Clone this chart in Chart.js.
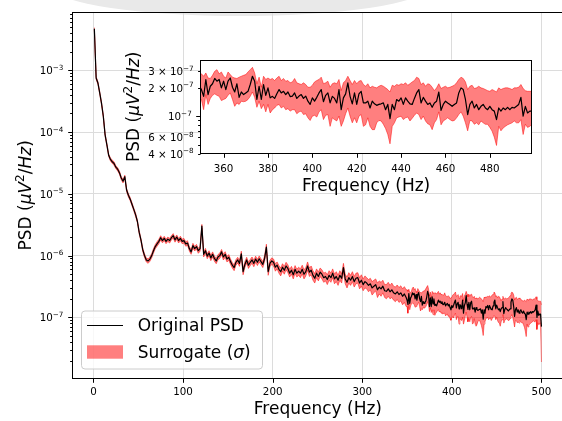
<!DOCTYPE html>
<html>
<head>
<meta charset="utf-8">
<script src="https://cdn.jsdelivr.net/npm/chart.js@4.4.0/dist/chart.umd.min.js"></script>
<style>
  html, body { margin: 0; padding: 0; background: #fff; overflow: hidden; }
  #wrap { position: relative; width: 562px; height: 421px; overflow: hidden; background: #fff; }
  #smudge { position: absolute; left: 55px; top: -40px; width: 370px; height: 56px; border-radius: 50%; background: #e9e9e9; }
  #main { position: absolute; left: 0; top: 0; }
  #inset { position: absolute; left: 100px; top: 50px; }
</style>
</head>
<body>
<div id="wrap">
  <div id="smudge"></div>
  <canvas id="main" width="600" height="421"></canvas>
  <canvas id="inset" width="450" height="150"></canvas>
</div>
<script>
// frequencies (Hz): every 2 Hz up to 349, then every 1 Hz up to 500
const freqs = [
  1,3,5,7,9,11,13,15,17,19,21,23,25,27,29,31,33,35,37,39,41,43,45,47,49,
  51,53,55,57,59,61,63,65,67,69,71,73,75,77,79,81,83,85,87,89,91,93,95,97,99,
  101,103,105,107,109,111,113,115,117,119,121,123,125,127,129,131,133,135,137,139,141,143,145,147,149,
  151,153,155,157,159,161,163,165,167,169,171,173,175,177,179,181,183,185,187,189,191,193,195,197,199,
  201,203,205,207,209,211,213,215,217,219,221,223,225,227,229,231,233,235,237,239,241,243,245,247,249,
  251,253,255,257,259,261,263,265,267,269,271,273,275,277,279,281,283,285,287,289,291,293,295,297,299,
  301,303,305,307,309,311,313,315,317,319,321,323,325,327,329,331,333,335,337,339,341,343,345,347,349,
  350,351,352,353,354,355,356,357,358,359,360,361,362,363,364,365,366,367,368,369,
  370,371,372,373,374,375,376,377,378,379,380,381,382,383,384,385,386,387,388,389,
  390,391,392,393,394,395,396,397,398,399,400,401,402,403,404,405,406,407,408,409,
  410,411,412,413,414,415,416,417,418,419,420,421,422,423,424,425,426,427,428,429,
  430,431,432,433,434,435,436,437,438,439,440,441,442,443,444,445,446,447,448,449,
  450,451,452,453,454,455,456,457,458,459,460,461,462,463,464,465,466,467,468,469,
  470,471,472,473,474,475,476,477,478,479,480,481,482,483,484,485,486,487,488,489,
  490,491,492,493,494,495,496,497,498,499,500
];

// original PSD (uV^2/Hz)
const psd = [
  4.7e-3,7.5e-4,6.2e-4,4.3e-4,2.9e-4,1.8e-4,9e-5,6.2e-5,4.2e-5,3.6e-5,3.3e-5,3.1e-5,2.7e-5,2.5e-5,2.2e-5,1.8e-5,1.6e-5,1.9e-5,1.15e-5,9.5e-6,8.2e-6,6.8e-6,5.6e-6,4.6e-6,3.6e-6,
  2.4e-6,1.8e-6,1.25e-6,1.0e-6,8.5e-7,8.2e-7,8.8e-7,1.0e-6,1.2e-6,1.4e-6,1.55e-6,1.7e-6,1.95e-6,1.75e-6,1.9e-6,1.7e-6,1.85e-6,1.75e-6,1.95e-6,2.1e-6,1.8e-6,2.0e-6,1.75e-6,1.9e-6,1.7e-6,
  1.75e-6,1.55e-6,1.6e-6,1.3e-6,1.15e-6,1.45e-6,1.3e-6,1.4e-6,1.2e-6,1.3e-6,3.0e-6,1.05e-6,1.2e-6,9.8e-7,1.1e-6,9.2e-7,1.05e-6,9e-7,8.2e-7,9.5e-7,1.0e-6,1.15e-6,9.5e-7,1.05e-6,8.8e-7,
  9.4e-7,8e-7,7e-7,6.4e-7,7.8e-7,8.5e-7,7.5e-7,1.07e-6,5.5e-7,7.2e-7,8.5e-7,7e-7,7.8e-7,8.5e-7,7.5e-7,8.8e-7,7.8e-7,8.9e-7,8e-7,7.2e-7,9e-7,1.38e-6,5.5e-7,7.5e-7,8.2e-7,
  7.8e-7,6.5e-7,7e-7,6e-7,5.5e-7,6.5e-7,5.8e-7,6.8e-7,6.2e-7,5.2e-7,5.8e-7,4.9e-7,6e-7,5.2e-7,5.6e-7,5.2e-7,6e-7,5e-7,5.5e-7,6.8e-7,5.4e-7,5.8e-7,4.8e-7,4.3e-7,5.2e-7,
  4.6e-7,5.4e-7,5e-7,4.4e-7,4.6e-7,4.1e-7,4.8e-7,4.4e-7,5.2e-7,4.2e-7,4.6e-7,4.0e-7,4.8e-7,4.3e-7,6.4e-7,4.2e-7,3.7e-7,4.4e-7,4.0e-7,4.6e-7,3.8e-7,4.3e-7,4.4e-7,3.6e-7,4.0e-7,
  3.4e-7,3.8e-7,3.6e-7,3.3e-7,3.5e-7,3.0e-7,3.2e-7,3.4e-7,2.8e-7,3.1e-7,2.9e-7,3.2e-7,2.7e-7,2.65e-7,2.9e-7,2.6e-7,2.8e-7,2.5e-7,2.4e-7,2.6e-7,2.35e-7,2.5e-7,2.2e-7,2.4e-7,2.1e-7,
  1.91e-7,1.62e-7,2.44e-7,1.69e-7,2.07e-7,2.2e-7,2.5e-7,2.34e-7,2.44e-7,1.99e-7,
  2.34e-7,1.91e-7,2.34e-7,2.53e-7,2.02e-7,1.8e-7,2.2e-7,1.58e-7,1.8e-7,1.69e-7,
  1.76e-7,1.83e-7,2.16e-7,2.64e-7,2.34e-7,1.5e-7,2.07e-7,1.5e-7,2.16e-7,1.66e-7,
  1.99e-7,1.56e-7,1.62e-7,1.54e-7,1.72e-7,1.91e-7,1.76e-7,1.83e-7,1.69e-7,1.8e-7,
  1.61e-7,1.63e-7,1.76e-7,1.54e-7,1.63e-7,1.69e-7,1.54e-7,1.63e-7,1.44e-7,1.33e-7,
  1.56e-7,1.44e-7,1.58e-7,1.76e-7,1.91e-7,1.42e-7,1.66e-7,1.76e-7,1.38e-7,1.62e-7,
  1.54e-7,1.38e-7,1.91e-7,1.17e-7,1.56e-7,1.72e-7,2.25e-7,1.62e-7,1.35e-7,1.76e-7,
  1.33e-7,1.72e-7,1.83e-7,1.38e-7,1.38e-7,1.44e-7,1.22e-7,1.44e-7,1.35e-7,1.3e-7,
  1.33e-7,1.35e-7,1.38e-7,1.17e-7,1.33e-7,9.4e-8,1.33e-7,1.17e-7,1.5e-7,1.44e-7,
  1.56e-7,1.33e-7,1.56e-7,1.44e-7,1.35e-7,1.33e-7,1.54e-7,1.76e-7,1.91e-7,1.38e-7,
  1.58e-7,1.44e-7,1.33e-7,1.38e-7,1.24e-7,1.38e-7,1.44e-7,1.8e-7,1.15e-7,1.33e-7,
  1.44e-7,1.38e-7,1.33e-7,1.27e-7,1.33e-7,1.38e-7,1.76e-7,1.99e-7,1.91e-7,1.5e-7,
  1.04e-7,1.33e-7,1.44e-7,1.22e-7,1.33e-7,1.17e-7,1.27e-7,1.33e-7,1.22e-7,1.17e-7,
  1.27e-7,1.17e-7,1.13e-7,9.2e-8,1.22e-7,1.13e-7,1.22e-7,1.17e-7,1.24e-7,1.17e-7,
  1.24e-7,1.22e-7,1.27e-7,1.33e-7,1.58e-7,1.0e-7,1.27e-7,1.08e-7,1.13e-7,1.13e-7,
  7.1e-8
];

// surrogate band, lower edge
const sigmaLow = [
  4.5e-3,7.1e-4,5.9e-4,4.1e-4,2.75e-4,1.7e-4,8.5e-5,5.9e-5,4.0e-5,3.4e-5,3.1e-5,2.9e-5,2.55e-5,2.35e-5,2.07e-5,1.7e-5,1.5e-5,1.79e-5,1.08e-5,8.9e-6,7.7e-6,6.4e-6,5.3e-6,4.3e-6,3.4e-6,
  2.25e-6,1.69e-6,1.17e-6,9.3e-7,7.9e-7,7.5e-7,8.1e-7,9.2e-7,1.1e-6,1.29e-6,1.42e-6,1.56e-6,1.79e-6,1.61e-6,1.75e-6,1.56e-6,1.7e-6,1.6e-6,1.79e-6,1.93e-6,1.65e-6,1.84e-6,1.6e-6,1.74e-6,1.56e-6,
  1.6e-6,1.42e-6,1.46e-6,1.19e-6,1.05e-6,1.32e-6,1.19e-6,1.28e-6,1.09e-6,1.18e-6,2.8e-6,9.5e-7,1.09e-6,8.9e-7,1.0e-6,8.3e-7,9.5e-7,8.1e-7,7.4e-7,8.6e-7,9.0e-7,1.04e-6,8.5e-7,9.4e-7,7.9e-7,
  8.4e-7,7.2e-7,6.3e-7,5.7e-7,7.0e-7,7.6e-7,6.7e-7,9.6e-7,4.9e-7,6.4e-7,7.6e-7,6.2e-7,6.9e-7,7.5e-7,6.6e-7,7.8e-7,6.9e-7,7.9e-7,7.1e-7,6.4e-7,8.0e-7,1.23e-6,4.8e-7,6.6e-7,7.2e-7,
  6.8e-7,5.6e-7,6.1e-7,5.2e-7,4.7e-7,5.6e-7,5.0e-7,5.9e-7,5.3e-7,4.5e-7,5.0e-7,4.2e-7,5.2e-7,4.5e-7,4.8e-7,4.4e-7,5.1e-7,4.2e-7,4.7e-7,5.8e-7,4.6e-7,4.9e-7,4.0e-7,3.6e-7,4.4e-7,
  3.9e-7,4.6e-7,4.2e-7,3.7e-7,3.9e-7,3.4e-7,4.0e-7,3.7e-7,4.4e-7,3.5e-7,3.8e-7,3.3e-7,4.0e-7,3.6e-7,5.4e-7,3.5e-7,3.0e-7,3.6e-7,3.3e-7,3.8e-7,3.1e-7,3.5e-7,3.6e-7,2.9e-7,3.2e-7,
  2.7e-7,3.0e-7,2.9e-7,2.6e-7,2.8e-7,2.3e-7,2.5e-7,2.7e-7,2.1e-7,2.4e-7,2.2e-7,2.5e-7,2.1e-7,2.0e-7,2.2e-7,2.0e-7,2.1e-7,1.9e-7,1.8e-7,1.95e-7,1.75e-7,1.85e-7,1.6e-7,1.75e-7,1.5e-7,
  1.5e-7,1.17e-7,1.69e-7,1.33e-7,1.54e-7,1.66e-7,1.72e-7,1.66e-7,1.62e-7,1.46e-7,
  1.5e-7,1.54e-7,1.66e-7,1.76e-7,1.5e-7,1.27e-7,1.38e-7,1.33e-7,1.44e-7,1.42e-7,
  1.44e-7,1.5e-7,1.62e-7,1.8e-7,1.58e-7,1.24e-7,1.44e-7,1.2e-7,1.33e-7,1.11e-7,
  1.33e-7,1.08e-7,1.17e-7,1.22e-7,1.3e-7,1.33e-7,1.22e-7,1.27e-7,1.17e-7,1.2e-7,
  1.13e-7,1.17e-7,1.17e-7,1.06e-7,1.11e-7,1.13e-7,1.04e-7,1.06e-7,9.6e-8,9.0e-8,
  1.0e-7,1.02e-7,9.8e-8,1.11e-7,1.17e-7,9.2e-8,1.02e-7,1.04e-7,7.8e-8,9.6e-8,
  9.2e-8,8.9e-8,1.0e-7,7.8e-8,8.9e-8,1.06e-7,1.22e-7,1.0e-7,8.5e-8,9.6e-8,
  8.5e-8,1.0e-7,1.04e-7,7.8e-8,8.1e-8,9.6e-8,7.8e-8,7.2e-8,7.2e-8,8.5e-8,
  9.0e-8,8.9e-8,8.2e-8,7.4e-8,6.4e-8,5.1e-8,7.8e-8,8.5e-8,9.6e-8,9.8e-8,
  1.0e-7,9.2e-8,9.6e-8,9.8e-8,8.9e-8,9.5e-8,1.02e-7,1.08e-7,1.04e-7,9.2e-8,
  1.0e-7,8.9e-8,8.3e-8,8.1e-8,7.2e-8,8.5e-8,9.2e-8,1.11e-7,8.1e-8,8.9e-8,
  9.2e-8,9.6e-8,9.2e-8,8.9e-8,9.0e-8,9.6e-8,1.04e-7,1.11e-7,1.0e-7,8.5e-8,
  7.0e-8,9.0e-8,8.9e-8,8.2e-8,8.5e-8,8.1e-8,8.9e-8,8.5e-8,8.2e-8,8.2e-8,
  7.6e-8,6.95e-8,6.0e-8,4.9e-8,7.8e-8,7.0e-8,7.5e-8,7.8e-8,8.1e-8,8.3e-8,
  8.5e-8,8.9e-8,8.5e-8,8.5e-8,9.2e-8,6.4e-8,8.2e-8,7.6e-8,7.8e-8,8.2e-8,
  1.9e-8
];

// surrogate band, upper edge
const sigmaHigh = [
  4.9e-3,7.9e-4,6.5e-4,4.5e-4,3.05e-4,1.9e-4,9.5e-5,6.5e-5,4.4e-5,3.8e-5,3.5e-5,3.3e-5,2.85e-5,2.65e-5,2.33e-5,1.9e-5,1.7e-5,2.0e-5,1.22e-5,1.0e-5,8.7e-6,7.2e-6,5.9e-6,4.9e-6,3.8e-6,
  2.55e-6,1.91e-6,1.33e-6,1.07e-6,9.1e-7,8.9e-7,9.5e-7,1.08e-6,1.3e-6,1.51e-6,1.68e-6,1.84e-6,2.1e-6,1.89e-6,2.05e-6,1.84e-6,2.0e-6,1.9e-6,2.1e-6,2.27e-6,1.95e-6,2.16e-6,1.9e-6,2.06e-6,1.84e-6,
  1.9e-6,1.68e-6,1.74e-6,1.41e-6,1.25e-6,1.58e-6,1.41e-6,1.52e-6,1.31e-6,1.42e-6,3.2e-6,1.15e-6,1.31e-6,1.07e-6,1.2e-6,1.01e-6,1.15e-6,9.9e-7,9.0e-7,1.04e-6,1.1e-6,1.26e-6,1.05e-6,1.16e-6,9.7e-7,
  1.04e-6,8.8e-7,7.7e-7,7.1e-7,8.6e-7,9.4e-7,8.3e-7,1.18e-6,6.1e-7,8.0e-7,9.4e-7,7.8e-7,8.7e-7,9.5e-7,8.4e-7,9.8e-7,8.7e-7,9.9e-7,8.9e-7,8.0e-7,1.0e-6,1.53e-6,6.2e-7,8.4e-7,9.2e-7,
  8.8e-7,7.4e-7,7.9e-7,6.9e-7,6.3e-7,7.4e-7,6.7e-7,7.8e-7,7.1e-7,6.0e-7,6.7e-7,5.7e-7,6.9e-7,6.0e-7,6.5e-7,6.1e-7,7.0e-7,5.9e-7,6.4e-7,7.9e-7,6.3e-7,6.8e-7,5.7e-7,5.1e-7,6.1e-7,
  5.4e-7,6.3e-7,5.9e-7,5.2e-7,5.4e-7,4.9e-7,5.7e-7,5.2e-7,6.1e-7,5.0e-7,5.5e-7,4.8e-7,5.7e-7,5.1e-7,7.5e-7,5.0e-7,4.5e-7,5.3e-7,4.8e-7,5.5e-7,4.6e-7,5.2e-7,5.3e-7,4.4e-7,4.9e-7,
  4.2e-7,4.7e-7,4.4e-7,4.1e-7,4.3e-7,3.8e-7,4.0e-7,4.2e-7,3.6e-7,3.9e-7,3.7e-7,4.0e-7,3.4e-7,3.4e-7,3.7e-7,3.3e-7,3.6e-7,3.2e-7,3.1e-7,3.35e-7,3.05e-7,3.25e-7,2.9e-7,3.15e-7,2.8e-7,
  2.8e-7,2.64e-7,2.86e-7,2.53e-7,2.5e-7,2.7e-7,2.98e-7,3.1e-7,2.8e-7,2.93e-7,
  2.64e-7,2.53e-7,2.93e-7,2.75e-7,2.58e-7,2.53e-7,2.5e-7,2.58e-7,2.64e-7,2.7e-7,
  2.75e-7,2.93e-7,3.1e-7,3.28e-7,2.86e-7,2.2e-7,2.58e-7,2.02e-7,2.64e-7,2.44e-7,
  2.53e-7,2.44e-7,2.5e-7,2.38e-7,2.53e-7,2.64e-7,2.38e-7,2.5e-7,2.34e-7,2.38e-7,
  2.25e-7,2.3e-7,2.5e-7,2.25e-7,2.2e-7,2.16e-7,2.25e-7,2.16e-7,2.02e-7,2.02e-7,
  2.12e-7,2.3e-7,2.38e-7,2.44e-7,2.58e-7,2.2e-7,2.25e-7,2.34e-7,2.02e-7,2.2e-7,
  2.25e-7,2.2e-7,2.44e-7,1.86e-7,2.25e-7,2.38e-7,2.64e-7,2.38e-7,2.16e-7,2.38e-7,
  2.2e-7,2.34e-7,2.38e-7,2.16e-7,2.07e-7,2.2e-7,1.99e-7,2.07e-7,2.02e-7,1.99e-7,
  2.07e-7,2.12e-7,2.07e-7,1.99e-7,1.91e-7,1.8e-7,2.12e-7,2.07e-7,2.16e-7,2.12e-7,
  2.2e-7,2.16e-7,2.25e-7,2.12e-7,2.2e-7,2.3e-7,2.38e-7,2.58e-7,2.5e-7,2.16e-7,
  2.25e-7,2.07e-7,2.2e-7,2.16e-7,2.02e-7,1.86e-7,1.99e-7,2.2e-7,1.96e-7,2.02e-7,
  2.07e-7,1.99e-7,2.02e-7,2.07e-7,2.12e-7,2.25e-7,2.44e-7,2.58e-7,2.5e-7,2.3e-7,
  1.91e-7,2.07e-7,2.12e-7,1.96e-7,1.99e-7,2.07e-7,1.99e-7,1.96e-7,1.91e-7,1.86e-7,
  1.83e-7,1.91e-7,1.86e-7,1.8e-7,1.99e-7,1.91e-7,1.96e-7,1.99e-7,1.99e-7,1.96e-7,
  1.91e-7,1.99e-7,1.99e-7,2.02e-7,2.16e-7,1.96e-7,1.86e-7,1.83e-7,1.83e-7,1.83e-7,
  1.6e-7
];

// ticks and labels
const mainXTicks = [0, 100, 200, 300, 400, 500];
const mainYTicks = [1e-7, 1e-6, 1e-5, 1e-4, 1e-3];
const mainYTickLabels = ['10^\u22127', '10^\u22126', '10^\u22125', '10^\u22124', '10^\u22123'];
const insetXTicks = [360, 380, 400, 420, 440, 460, 480];
const insetYTicks = [4e-8, 6e-8, 1e-7, 2e-7, 3e-7];
const insetYTickLabels = ['4 \u00d7 10^\u22128', '6 \u00d7 10^\u22128', '10^\u22127', '2 \u00d7 10^\u22127', '3 \u00d7 10^\u22127'];
const xTitle = 'Frequency (Hz)';
const legendLabels = ['Original PSD', 'Surrogate (\u03c3)'];

const FAMILY = '"DejaVu Sans", sans-serif';
const TICK_SIZE = 10.3;
const MAJOR_LEN = 4.3;
const MINOR_LEN = 2.4;
const LABEL_PAD = 4.3;

function fontOf(r) {
  return (r.italic ? 'italic ' : '') + r.size + 'px ' + FAMILY;
}

function runsWidth(ctx, runs) {
  let w = 0;
  runs.forEach(r => { ctx.font = fontOf(r); w += ctx.measureText(r.text).width; });
  return w;
}

function drawRuns(ctx, runs, x, y) {
  runs.forEach(r => {
    ctx.font = fontOf(r);
    ctx.fillText(r.text, x, y - (r.rise || 0));
    x += ctx.measureText(r.text).width;
  });
}

function tickRuns(label) {
  const parts = label.split('^');
  return [{ text: parts[0], size: TICK_SIZE }, { text: parts[1], size: 7.2, rise: 4.5 }];
}

function psdTitleRuns() {
  return [
    { text: 'PSD (', size: 17 },
    { text: '\u03bcV', size: 17, italic: true },
    { text: '2', size: 12, rise: 7 },
    { text: '/', size: 17 },
    { text: 'Hz', size: 17, italic: true },
    { text: ')', size: 17 }
  ];
}

function isDecade(v) {
  const l = Math.log10(v);
  return Math.abs(l - Math.round(l)) < 1e-9;
}

// every 1..9 x 10^n position inside the axis range
function logTickMarks(min, max) {
  const out = [];
  for (let n = Math.floor(Math.log10(min)); n <= Math.ceil(Math.log10(max)); n++) {
    for (let m = 1; m <= 9; m++) {
      const v = m * Math.pow(10, n);
      if (v >= min * 0.9999 && v <= max) out.push({ value: v, major: m === 1 });
    }
  }
  return out;
}

function roundRectPath(ctx, x, y, w, h, r) {
  ctx.beginPath();
  ctx.moveTo(x + r, y);
  ctx.arcTo(x + w, y, x + w, y + h, r);
  ctx.arcTo(x + w, y + h, x, y + h, r);
  ctx.arcTo(x, y + h, x, y, r);
  ctx.arcTo(x, y, x + w, y, r);
  ctx.closePath();
}

function drawLegend(ctx) {
  ctx.save();
  roundRectPath(ctx, 81.5, 311, 181, 58, 3.5);
  ctx.fillStyle = 'rgba(255,255,255,0.8)';
  ctx.fill();
  ctx.strokeStyle = '#cccccc';
  ctx.lineWidth = 1;
  ctx.stroke();

  ctx.strokeStyle = '#000';
  ctx.lineWidth = 1.1;
  ctx.beginPath();
  ctx.moveTo(87, 325.5);
  ctx.lineTo(123, 325.5);
  ctx.stroke();
  ctx.fillStyle = 'rgba(255,0,0,0.5)';
  ctx.fillRect(87, 345.3, 36, 13.4);

  ctx.fillStyle = '#000';
  ctx.textAlign = 'left';
  ctx.textBaseline = 'alphabetic';
  drawRuns(ctx, [{ text: legendLabels[0], size: 17 }], 137.7, 331.3);
  const s = legendLabels[1].split('\u03c3');
  drawRuns(ctx, [
    { text: s[0], size: 17 },
    { text: '\u03c3', size: 17, italic: true },
    { text: s[1], size: 17 }
  ], 137.7, 358);
  ctx.restore();
}

// spines, tick marks, tick labels and axis titles
function makeFrame(cfg) {
  return {
    id: 'frame',
    beforeDraw(chart) {
      if (!cfg.whiteArea) return;
      const { ctx, chartArea: a } = chart;
      ctx.save();
      ctx.fillStyle = '#fff';
      ctx.fillRect(a.left, a.top, a.right - a.left, a.bottom - a.top);
      ctx.restore();
    },
    afterDraw(chart) {
      const { ctx, chartArea: a } = chart;
      const xs = chart.scales.x, ys = chart.scales.y;
      ctx.save();
      ctx.strokeStyle = '#000';
      ctx.lineWidth = 1;
      const l = Math.round(a.left) + 0.5, t = Math.round(a.top) + 0.5;
      const r = Math.round(a.right) - 0.5, b = Math.round(a.bottom) - 0.5;
      ctx.strokeRect(l, t, r - l, b - t);

      ctx.beginPath();
      cfg.xTicks.forEach(v => {
        const px = Math.round(xs.getPixelForValue(v)) + 0.5;
        ctx.moveTo(px, b);
        ctx.lineTo(px, b + MAJOR_LEN);
      });
      logTickMarks(ys.min, ys.max).forEach(tk => {
        const py = Math.round(ys.getPixelForValue(tk.value)) + 0.5;
        ctx.moveTo(l, py);
        ctx.lineTo(l - (tk.major ? MAJOR_LEN : MINOR_LEN), py);
      });
      ctx.stroke();

      ctx.fillStyle = '#000';
      ctx.textBaseline = 'alphabetic';
      ctx.textAlign = 'center';
      ctx.font = fontOf({ size: TICK_SIZE });
      cfg.xTicks.forEach(v => {
        ctx.fillText(String(v), xs.getPixelForValue(v), a.bottom + cfg.xLabelDy);
      });

      ctx.textAlign = 'left';
      cfg.yTicks.forEach((v, i) => {
        const runs = tickRuns(cfg.yLabels[i]);
        const end = a.left - (isDecade(v) ? MAJOR_LEN : MINOR_LEN) - LABEL_PAD;
        drawRuns(ctx, runs, end - runsWidth(ctx, runs), ys.getPixelForValue(v) + 4);
      });

      ctx.textAlign = 'center';
      ctx.font = fontOf({ size: 17 });
      ctx.fillText(xTitle, (a.left + a.right) / 2, a.bottom + cfg.xTitleDy);

      ctx.textAlign = 'left';
      const runs = psdTitleRuns();
      const w = runsWidth(ctx, runs);
      ctx.translate(cfg.yTitleX, (a.top + a.bottom) / 2);
      ctx.rotate(-Math.PI / 2);
      drawRuns(ctx, runs, -w / 2, 0);
      ctx.restore();

      if (cfg.legend) drawLegend(ctx);
    }
  };
}

function series(values) {
  return freqs.map((f, i) => ({ x: f, y: values[i] }));
}

function bandDatasets(lineWidth) {
  return [
    { label: legendLabels[0], data: series(psd), borderColor: '#000', borderWidth: lineWidth,
      pointRadius: 0, tension: 0, fill: false, borderJoinStyle: 'round' },
    { label: 'low', data: series(sigmaLow), borderColor: 'rgba(255,0,0,0.5)', borderWidth: 1,
      pointRadius: 0, tension: 0, fill: false },
    { label: legendLabels[1], data: series(sigmaHigh), borderColor: 'rgba(255,0,0,0.5)', borderWidth: 1,
      pointRadius: 0, tension: 0, fill: 1, backgroundColor: 'rgba(255,0,0,0.5)' }
  ];
}

function baseOptions(o) {
  return {
    responsive: false,
    animation: false,
    devicePixelRatio: 1,
    events: [],
    layout: { padding: o.padding },
    plugins: { legend: { display: false }, tooltip: { enabled: false } },
    scales: {
      x: {
        type: 'linear', min: o.xMin, max: o.xMax,
        afterBuildTicks: s => { s.ticks = o.xTicks.map(v => ({ value: v })); },
        afterFit: s => { s.height = o.xHeight; },
        ticks: { display: false },
        grid: { display: o.grid, color: '#dcdcdc', lineWidth: 1, drawTicks: false },
        border: { display: false }
      },
      y: {
        type: 'logarithmic', min: o.yMin, max: o.yMax,
        afterBuildTicks: s => { s.ticks = o.yGrid.map(v => ({ value: v, major: true })); },
        afterFit: s => { s.width = o.yWidth; },
        ticks: { display: false },
        grid: { display: o.grid, color: '#dcdcdc', lineWidth: 1, drawTicks: false },
        border: { display: false }
      }
    }
  };
}

new Chart(document.getElementById('main'), {
  type: 'line',
  data: { datasets: bandDatasets(1.2) },
  options: baseOptions({
    padding: { top: 12, right: 36.2, bottom: 0, left: 0 },
    xMin: -23.95, xMax: 524.95, xTicks: mainXTicks, xHeight: 42.3,
    yMin: 1.02e-8, yMax: 8.75e-3, yGrid: mainYTicks, yWidth: 72, grid: true
  }),
  plugins: [makeFrame({
    xTicks: mainXTicks, yTicks: mainYTicks, yLabels: mainYTickLabels,
    xLabelDy: 16.5, xTitleDy: 35.5, yTitleX: 31, legend: true, whiteArea: false
  })]
});

new Chart(document.getElementById('inset'), {
  type: 'line',
  data: { datasets: bandDatasets(1.2) },
  options: baseOptions({
    padding: { top: 9.7, right: 18, bottom: 0, left: 0 },
    xMin: 349.5, xMax: 499, xTicks: insetXTicks, xHeight: 46,
    yMin: 3.98e-8, yMax: 3.95e-7, yGrid: insetYTicks, yWidth: 100.3, grid: false
  }),
  plugins: [makeFrame({
    xTicks: insetXTicks, yTicks: insetYTicks, yLabels: insetYTickLabels,
    xLabelDy: 17.5, xTitleDy: 36.5, yTitleX: 39, legend: false, whiteArea: true
  })]
});
</script>
</body>
</html>
